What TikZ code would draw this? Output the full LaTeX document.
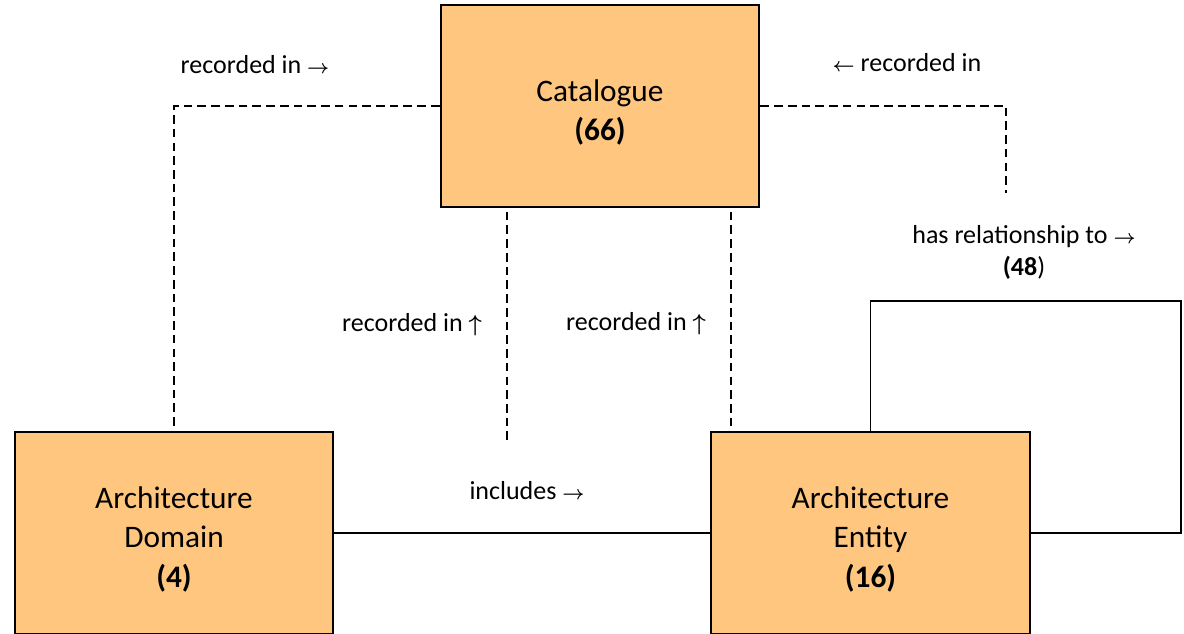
\documentclass[tikz,border=0pt]{standalone}
\usepackage{fontspec}
\setmainfont{Carlito}
% direction arrows set in bold math symbols
\newcommand{\ra}{{\fontsize{15.5}{15.5}\selectfont\boldmath$\rightarrow$}}
\newcommand{\la}{{\fontsize{15.5}{15.5}\selectfont\boldmath$\leftarrow$}}
\newcommand{\ua}{{\fontsize{17}{17}\selectfont\boldmath$\uparrow$}}
% taller first line pushes the box text slightly downwards
\newcommand{\topstrut}{\rule{0pt}{26pt}}
\definecolor{boxfill}{HTML}{FFC680}
\tikzset{
  entity/.style={draw=black, fill=boxfill, line width=1.6pt, align=center,
    minimum width=239pt, minimum height=151pt, inner sep=0pt,
    font=\fontsize{23.5}{29.5}\selectfont},
  rel/.style={line width=1.1pt, black},
  recref/.style={rel, dash pattern=on 6.5pt off 3.8pt},
  lbl/.style={inner sep=0pt, align=center, font=\fontsize{19.5}{24}\selectfont}
}
\begin{document}
\begin{tikzpicture}[x=0.75pt, y=-0.75pt]
  \useasboundingbox (0,0) rectangle (1184,633);
  \clip (0,0) rectangle (1184,633);

  % entity boxes
  \node[entity] (cat) at (600,106) {\topstrut Catalogue\\\textbf{(66)}};
  \node[entity] (dom) at (174,533) {\topstrut Architecture\\Domain\\\textbf{(4)}};
  \node[entity] (ent) at (870.5,533) {\topstrut Architecture\\Entity\\\textbf{(16)}};

  % free ends and corners of connectors
  \coordinate (relend) at (1006,193);
  \coordinate (midend) at (507,443);
  \coordinate (entref) at (731,432);
  \coordinate (loopcorner) at (1181,301);

  % "recorded in" references to the catalogue
  \draw[recref] (cat.west) -| (dom.north);
  \draw[recref] (cat.east) -| (relend);
  \draw[recref] ([yshift=-3pt]cat.south -| midend) -- (midend);
  \draw[recref] ([yshift=-3pt]cat.south -| entref) -- (entref);

  % includes
  \draw[rel] (dom.east) -- (ent.west);

  % self relationship loop
  \draw[rel] (ent.north) |- (loopcorner) |- (ent.east);

  % labels
  \node[lbl] (l1) at (255,65) {recorded in \ra};
  \node[lbl] (l2) at (907,63) {\la\ recorded in};
  \node[lbl] (l3) at (412,325) {recorded in \ua};
  \node[lbl] (l4) at (636,324) {recorded in \ua};
  \node[lbl] (l5) at (527,491) {includes \ra};
  \node[lbl] (l6) at (1024,252) {has relationship to \ra\\\textbf{(48})};
\end{tikzpicture}
\end{document}
